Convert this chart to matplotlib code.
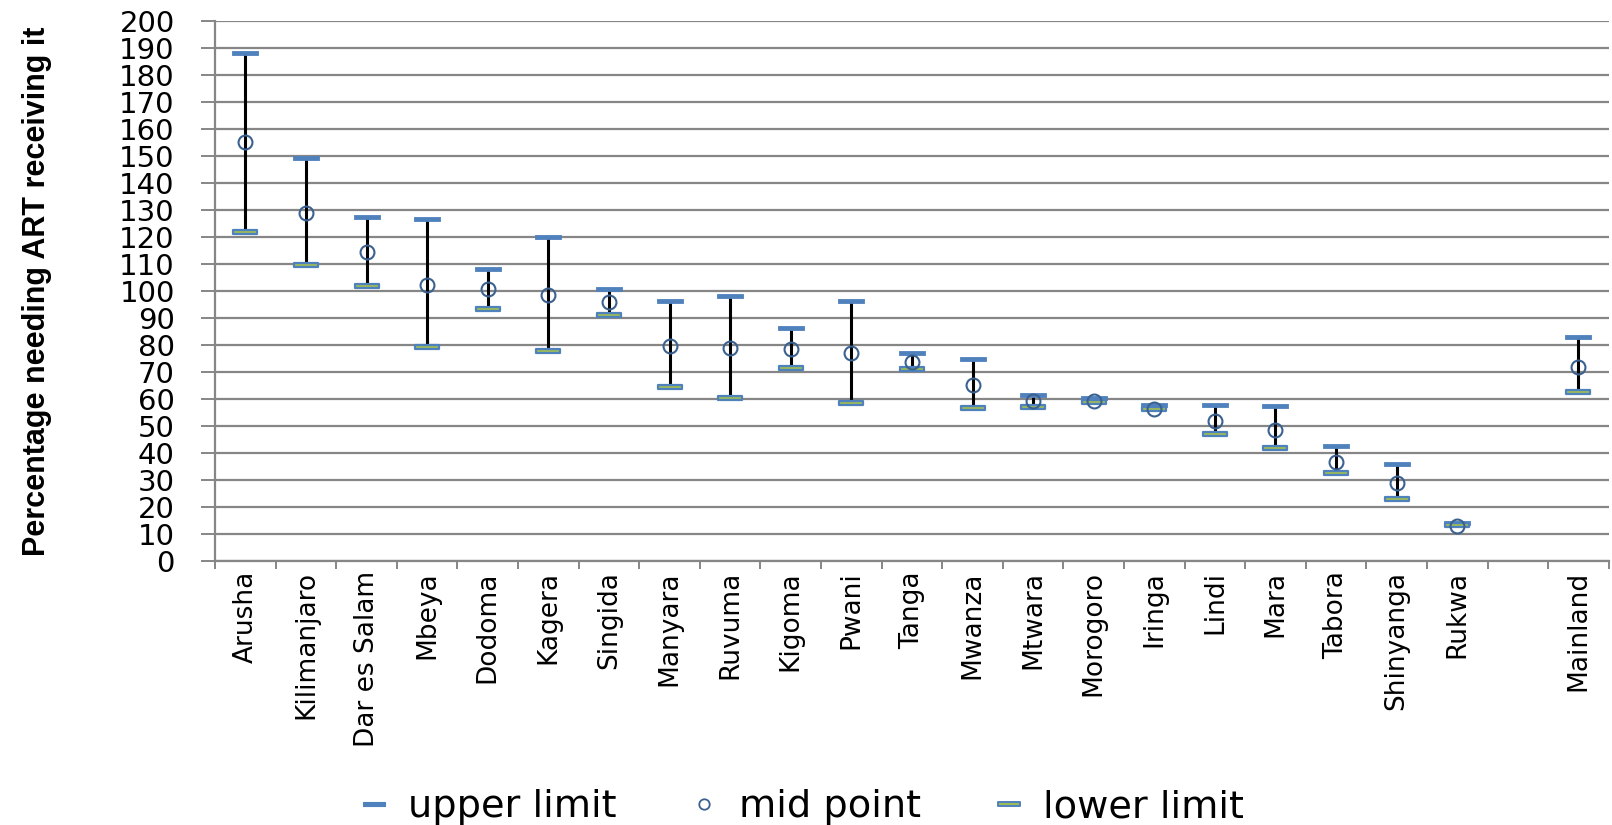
import numpy as np
import matplotlib
matplotlib.use("Agg")
import matplotlib.pyplot as plt
from matplotlib.path import Path
from matplotlib.lines import Line2D
from matplotlib.ticker import MultipleLocator, FixedLocator

regions = ["Arusha", "Kilimanjaro", "Dar es Salam", "Mbeya", "Dodoma", "Kagera",
           "Singida", "Manyara", "Ruvuma", "Kigoma", "Pwani", "Tanga", "Mwanza",
           "Mtwara", "Morogoro", "Iringa", "Lindi", "Mara", "Tabora", "Shinyanga",
           "Rukwa", "", "Mainland"]
upper = [188.1, 149.2, 127.3, 126.5, 108.3, 120.1, 100.7, 96.4, 98.1, 86.2, 96.4,
         77.0, 74.9, 61.4, 60.4, 57.9, 57.8, 57.3, 42.5, 35.9, 14.3, np.nan, 82.9]
mid = [155.0, 129.0, 114.4, 102.2, 100.9, 98.4, 95.8, 79.8, 78.8, 78.5, 77.2,
       73.9, 65.2, 59.3, 59.3, 56.3, 51.9, 48.6, 36.8, 28.9, 13.2, np.nan, 72.0]
lower = [121.8, 109.5, 101.8, 79.3, 93.5, 78.0, 91.0, 64.5, 60.4, 71.5, 58.6,
         71.0, 56.7, 57.0, 58.8, 56.2, 47.2, 41.8, 32.6, 23.0, 13.6, np.nan, 62.5]

blue = "#4F81BD"
green = "#9BBB59"
circ = "#3B6190"
grid = "#868686"

# flat bar marker used for the limits
bar = Path([(-1, -0.14), (1, -0.14), (1, 0.14), (-1, 0.14), (-1, -0.14)],
           [Path.MOVETO, Path.LINETO, Path.LINETO, Path.LINETO, Path.CLOSEPOLY])

fig = plt.figure(figsize=(16.12, 8.25), dpi=100)
ax = fig.add_axes([0.1334, 0.3195, 0.8646, 0.6555])

x = np.arange(len(regions))
ax.vlines(x, lower, upper, color="black", lw=2.2, zorder=3)
ax.plot(x, upper, ls="none", marker=bar, ms=18.5, mfc=blue, mec=blue, mew=0.6, zorder=4)
ax.plot(x, lower, ls="none", marker=bar, ms=17.5, mfc=green, mec=blue, mew=1.6, zorder=4)
ax.plot(x, mid, ls="none", marker="o", ms=10, mfc="none", mec=circ, mew=1.5, zorder=5)

ax.set_xlim(-0.5, len(regions) - 0.5)
ax.set_ylim(0, 200)
ax.yaxis.set_major_locator(MultipleLocator(10))
ax.grid(axis="y", color=grid, lw=1.6)
ax.set_axisbelow(True)
for s in ["top", "right"]:
    ax.spines[s].set_visible(False)
for s in ["left", "bottom"]:
    ax.spines[s].set_color(grid)
    ax.spines[s].set_linewidth(1.6)

ax.set_xticks(x)
ax.set_xticklabels(regions, rotation=90, fontsize=19, va="top", ha="center")
ax.xaxis.set_minor_locator(FixedLocator(np.arange(-0.5, len(regions), 1)))
ax.tick_params(axis="x", which="major", length=0, pad=7)
ax.tick_params(axis="x", which="minor", length=6, width=1.4, color=grid)
ax.tick_params(axis="y", length=10, width=1.4, color=grid, pad=19, labelsize=21)

ax.set_ylabel("Percentage needing ART receiving it", fontsize=22, fontweight="bold",
              family=["Liberation Sans", "DejaVu Sans"])
ax.yaxis.set_label_coords(-0.117, 0.5)

handles = [
    Line2D([], [], ls="none", marker=bar, ms=16, mfc=blue, mec=blue, mew=0.8),
    Line2D([], [], ls="none", marker="o", ms=7.5, mfc="none", mec=circ, mew=1.3),
    Line2D([], [], ls="none", marker=bar, ms=16, mfc=green, mec=blue, mew=1.4),
]
fig.legend(handles, ["upper limit", "mid point", "lower limit"], loc="lower center",
           bbox_to_anchor=(0.497, -0.042), ncol=3, frameon=False, fontsize=27.5,
           handlelength=0.8, handletextpad=0.5, columnspacing=1.9)

fig.savefig("out.png", dpi=100)
